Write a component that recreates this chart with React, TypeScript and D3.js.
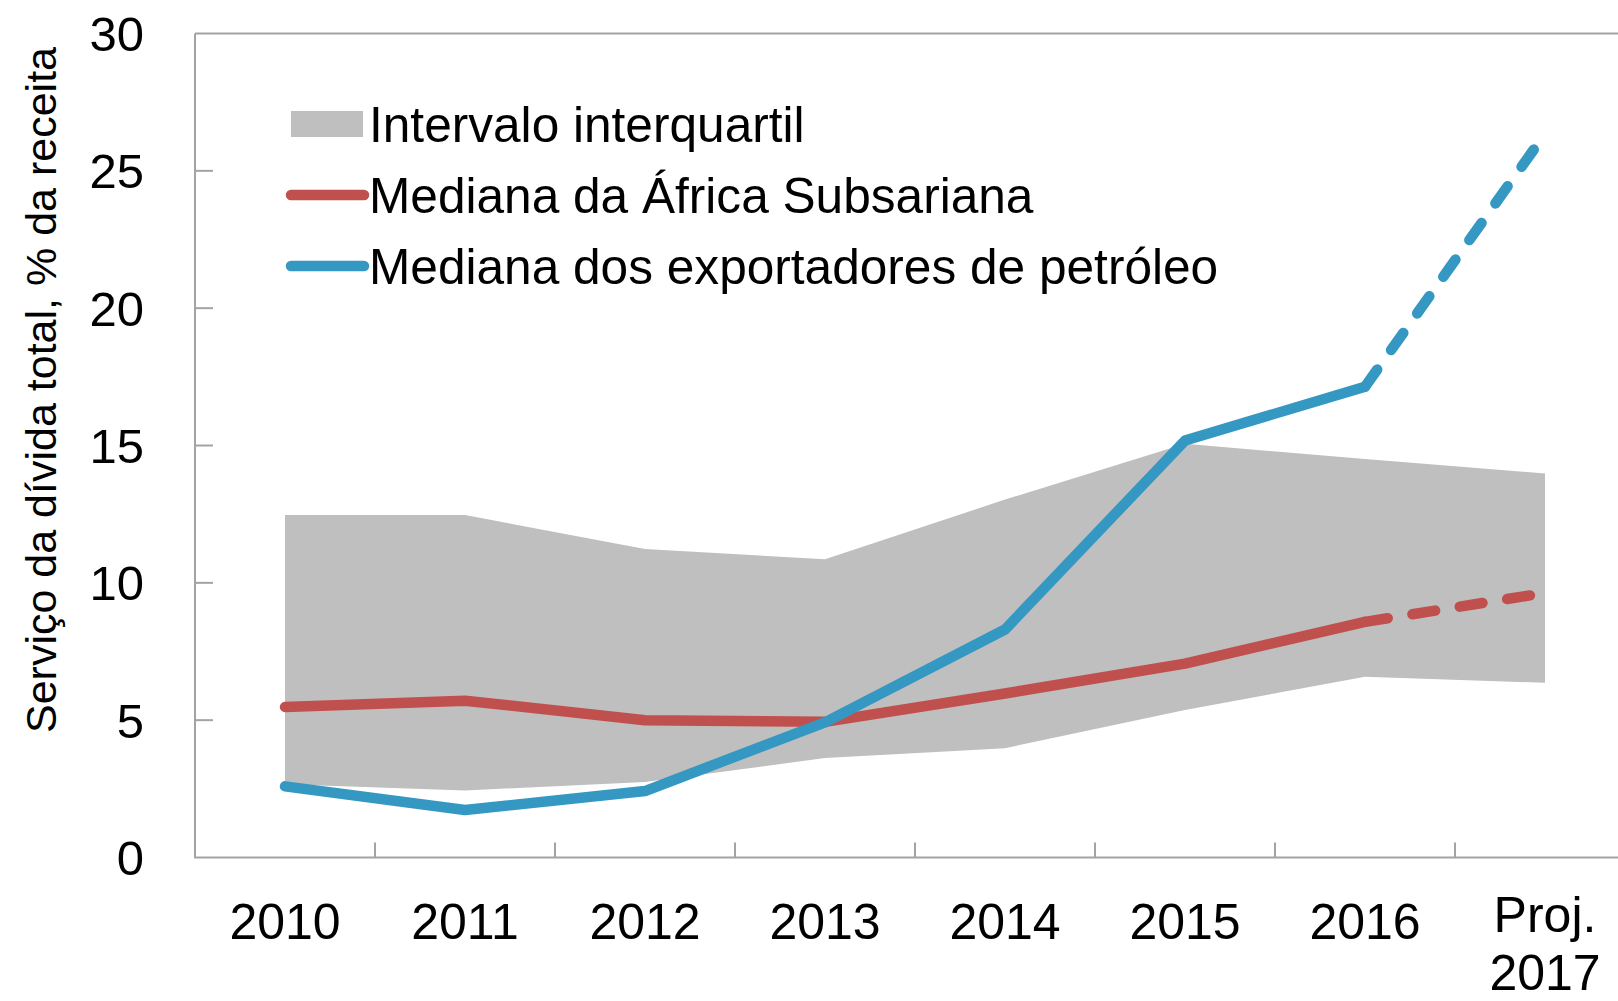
import React from "react";
import * as d3 from "d3";

const categories = ["2010", "2011", "2012", "2013", "2014", "2015", "2016", "Proj.\n2017"];
const iqrUpper = [12.47, 12.47, 11.23, 10.86, 13.03, 15.06, 14.51, 13.98];
const iqrLower = [2.67, 2.44, 2.75, 3.62, 3.98, 5.37, 6.58, 6.36];
const ssaMedian = [5.48, 5.71, 5.0, 4.94, 5.97, 7.06, 8.58, 9.63];
const oilMedian = [2.59, 1.73, 2.42, 4.92, 8.3, 15.18, 17.14, 26.35];
const yTicks = [0, 5, 10, 15, 20, 25, 30];
const projStart = 6;

const legendItems = [
  { kind: "area", label: "Intervalo interquartil" },
  { kind: "red", label: "Mediana da África Subsariana" },
  { kind: "blue", label: "Mediana dos exportadores de petróleo" },
];
const yTitle = "Serviço da dívida total, % da receita";

const W = 1618;
const H = 1001;
const FONT = "'Liberation Sans', Arial, Helvetica, sans-serif";
const RED = "#C0504D";
const BLUE = "#3498C2";
const GRAY = "#BFBFBF";
const AXIS = "#A3A3A3";

export default function App() {
  const left = 195;
  const right = 1635;
  const top = 33.5;
  const bottom = 857.5;

  const x = d3.scalePoint<string>().domain(categories).range([left, right]).padding(0.5);
  const xb = d3.scaleBand<string>().domain(categories).range([left, right]).padding(0);
  const y = d3.scaleLinear().domain([0, 30]).range([bottom, top]);

  const idx = categories.map((_, i) => i);
  const area = d3
    .area<number>()
    .x((i) => x(categories[i]) as number)
    .y0((i) => y(iqrLower[i]))
    .y1((i) => y(iqrUpper[i]));

  const lineOf = (vals: number[]) =>
    d3
      .line<number>()
      .x((i) => x(categories[i]) as number)
      .y((i) => y(vals[i]));

  const solidIdx = idx.slice(0, projStart + 1);
  const dashIdx = idx.slice(projStart);

  const sw = 10.5;

  const boundaries = categories.slice(1).map((c) => xb(c) as number);

  const legX = 291;
  const legY0 = 124;
  const legStep = 71;

  return (
    <svg
      width={W}
      height={H}
      style={{ position: "absolute", left: 0, top: 0, display: "block", background: "#fff" }}
      fontFamily={FONT}
    >
      <rect x={0} y={0} width={W} height={H} fill="#fff" />
      {/* IQR area */}
      <path d={area(idx) || ""} fill={GRAY} />

      {/* SSA median */}
      <path d={lineOf(ssaMedian)(solidIdx) || ""} fill="none" stroke={RED} strokeWidth={sw} strokeLinecap="round" strokeLinejoin="round" />
      <path d={lineOf(ssaMedian)(dashIdx) || ""} fill="none" stroke={RED} strokeWidth={sw} strokeLinecap="round" strokeDasharray="23 25" />

      {/* Oil exporters median */}
      <path d={lineOf(oilMedian)(solidIdx) || ""} fill="none" stroke={BLUE} strokeWidth={sw} strokeLinecap="round" strokeLinejoin="round" />
      <path d={lineOf(oilMedian)(dashIdx) || ""} fill="none" stroke={BLUE} strokeWidth={sw} strokeLinecap="round" strokeDasharray="21 24" />

      {/* Axes */}
      <line x1={left} x2={W} y1={top} y2={top} stroke={AXIS} strokeWidth={2} />
      <line x1={left} x2={left} y1={top} y2={bottom} stroke={AXIS} strokeWidth={2} />
      <line x1={left - 1} x2={W} y1={bottom} y2={bottom} stroke={AXIS} strokeWidth={2} />
      {yTicks.map((t) => (
        <g key={t}>
          {t > 0 && t < 30 && (
            <line x1={left} x2={left + 18} y1={y(t)} y2={y(t)} stroke={AXIS} strokeWidth={2} />
          )}
          <text x={144} y={y(t)} dy="0.36em" textAnchor="end" fontSize={49} fill="#000">
            {t}
          </text>
        </g>
      ))}
      {boundaries.map((bx, i) => (
        <line key={i} x1={bx} x2={bx} y1={bottom} y2={bottom - 15} stroke={AXIS} strokeWidth={2} />
      ))}
      {categories.map((c) => {
        const lines = c.split("\n");
        const cx = x(c) as number;
        if (lines.length === 1) {
          return (
            <text key={c} x={cx} y={939} textAnchor="middle" fontSize={50} fill="#000">
              {c}
            </text>
          );
        }
        return (
          <text key={c} x={cx} textAnchor="middle" fontSize={50} fill="#000">
            {lines.map((l, k) => (
              <tspan key={k} x={cx} y={932 + k * 58}>
                {l}
              </tspan>
            ))}
          </text>
        );
      })}

      {/* Y title */}
      <text
        transform={`translate(56, 390) rotate(-90)`}
        textAnchor="middle"
        fontSize={43}
        fill="#000"
      >
        {yTitle}
      </text>

      {/* Legend */}
      {legendItems.map((it, i) => {
        const cy = legY0 + i * legStep;
        return (
          <g key={it.label}>
            {it.kind === "area" ? (
              <rect x={legX} y={cy - 13} width={72} height={26} fill={GRAY} />
            ) : (
              <line
                x1={legX}
                x2={legX + 73}
                y1={cy}
                y2={cy}
                stroke={it.kind === "red" ? RED : BLUE}
                strokeWidth={sw}
                strokeLinecap="round"
              />
            )}
            <text x={369} y={cy + 17.5} fontSize={49.6} fill="#000">
              {it.label}
            </text>
          </g>
        );
      })}
    </svg>
  );
}
